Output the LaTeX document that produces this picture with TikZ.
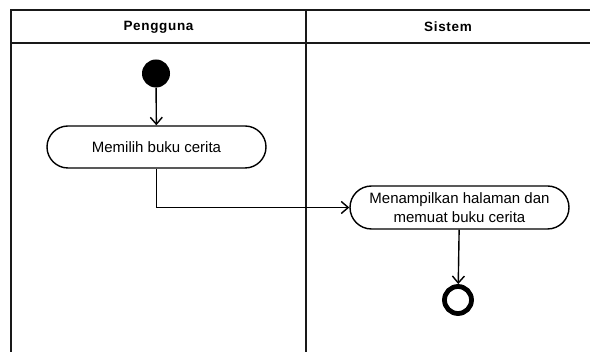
\documentclass[tikz,border=0pt]{standalone}
\usepackage{fontspec}
\setmainfont{Liberation Sans}
\usetikzlibrary{shapes.misc,arrows.meta}
\begin{document}
\begin{tikzpicture}[x=1pt,y=-1pt,
  lane/.style={line width=1.9pt,draw=black!90},
  lanetitle/.style={font=\fontsize{13.5}{15}\selectfont\bfseries\addfontfeature{LetterSpace=5}},
  activity/.style={rounded rectangle,draw,line width=1.4pt,fill=white,
    minimum width=223pt,align=center,font=\fontsize{15}{19}\selectfont,
    inner sep=2pt},
  startnode/.style={circle,fill=black,minimum size=28pt,inner sep=0pt},
  endnode/.style={circle,draw,line width=4.8pt,minimum size=27pt,inner sep=0pt},
  flow/.style={line width=1.4pt,-{Straight Barb[length=7pt,width=12pt,line width=1.4pt]}}]
\useasboundingbox (0,0) rectangle (590,352);
\fill[white] (0,0) rectangle (590,352);
% swimlane frame
\draw[lane] (11,360) -- (11,10) -- (595,10);
\draw[lane] (11,43) -- (595,43);
\draw[lane] (306,10) -- (306,360);
\node[lanetitle] (t1) at (158.5,27) {Pengguna};
\node[lanetitle] (t2) at (448,27) {Sistem};
% activity nodes
\node[startnode] (start) at (156,73.5) {};
\node[activity,minimum height=42pt] (a1) at (156.5,147) {Memilih buku cerita};
\node[activity,minimum height=43pt] (a2) at (459.5,207.5) {Menampilkan halaman dan\\memuat buku cerita};
\node[endnode] (stop) at (458,300) {};
% control flow
\draw[flow] (start) -- (a1);
\draw[flow] (a1.south) |- (a2.west);
\draw[flow] (a2) -- (stop);
\end{tikzpicture}
\end{document}
